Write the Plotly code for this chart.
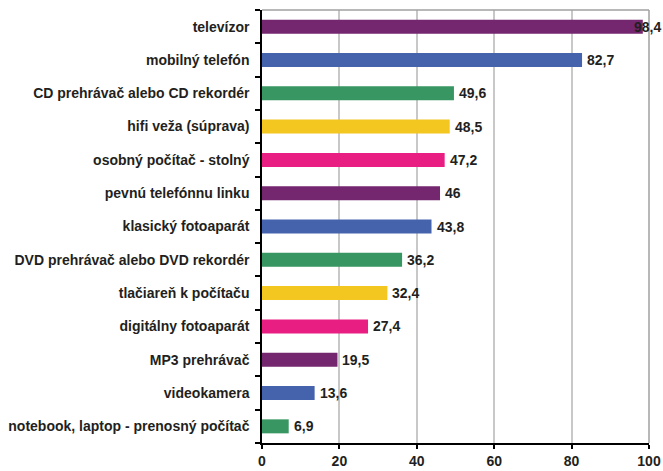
import plotly.graph_objects as go

categories = ["televízor", "mobilný telefón", "CD prehrávač alebo CD rekordér",
              "hifi veža (súprava)", "osobný počítač - stolný", "pevnú telefónnu linku",
              "klasický fotoaparát", "DVD prehrávač alebo DVD rekordér",
              "tlačiareň k počítaču", "digitálny fotoaparát", "MP3 prehrávač",
              "videokamera", "notebook, laptop - prenosný počítač"]
values = [98.4, 82.7, 49.6, 48.5, 47.2, 46, 43.8, 36.2, 32.4, 27.4, 19.5, 13.6, 6.9]
palette = ["#74266F", "#4563AD", "#379662", "#F4C620", "#E91E82"]
colors = [palette[i % 5] for i in range(len(values))]
x_ticks = [0, 20, 40, 60, 80, 100]

cats = categories[::-1]
vals = values[::-1]
cols = colors[::-1]

fig = go.Figure(go.Bar(
    x=vals, y=cats, orientation="h", marker=dict(color=cols, line=dict(width=0)),
    hoverinfo="skip",
))

txtcol = "#231F20"
fnt = dict(family="Liberation Sans, Arial, sans-serif", size=14, color=txtcol, weight="bold")

for c, v in zip(cats, vals):
    lab = f"{v:g}".replace(".", ",")
    if v > 95:
        fig.add_annotation(x=v, y=c, text=lab, showarrow=False, xanchor="right",
                           xshift=20, font=fnt)
    else:
        fig.add_annotation(x=v, y=c, text=lab, showarrow=False, xanchor="left",
                           xshift=3, font=fnt)

fig.update_layout(
    width=663, height=471,
    margin=dict(l=262, r=14, t=10, b=28),
    paper_bgcolor="white", plot_bgcolor="white",
    bargap=0.58, showlegend=False,
    font=fnt,
    xaxis=dict(range=[0, 100], tickvals=x_ticks, ticktext=[str(t) for t in x_ticks],
               showgrid=True, gridcolor="#C8C8C8", gridwidth=1.5,
               showline=True, linecolor="black", linewidth=1.5,
               ticks="outside", ticklen=4, tickcolor="black", tickwidth=1.5,
               ticklabelstandoff=0, automargin=False,
               tickfont=fnt, zeroline=False, fixedrange=True, mirror=False),
    yaxis=dict(categoryorder="array", categoryarray=cats,
               showline=True, linecolor="black", linewidth=1.5,
               ticks="outside", ticklen=5, tickcolor="black", tickwidth=1.5,
               tickson="boundaries", showgrid=False, ticklabelstandoff=8,
               automargin=False, tickfont=fnt, fixedrange=True),
    shapes=[
        dict(type="line", xref="paper", yref="paper", x0=0, x1=1, y0=1, y1=1,
             line=dict(color="#A0A0A0", width=1.5)),
        dict(type="line", xref="paper", yref="paper", x0=1, x1=1, y0=0, y1=1,
             line=dict(color="#A0A0A0", width=1.5)),
    ],
)

fig.write_html("out.html", config={"displayModeBar": False},
               post_script="document.body.style.margin='0';")
